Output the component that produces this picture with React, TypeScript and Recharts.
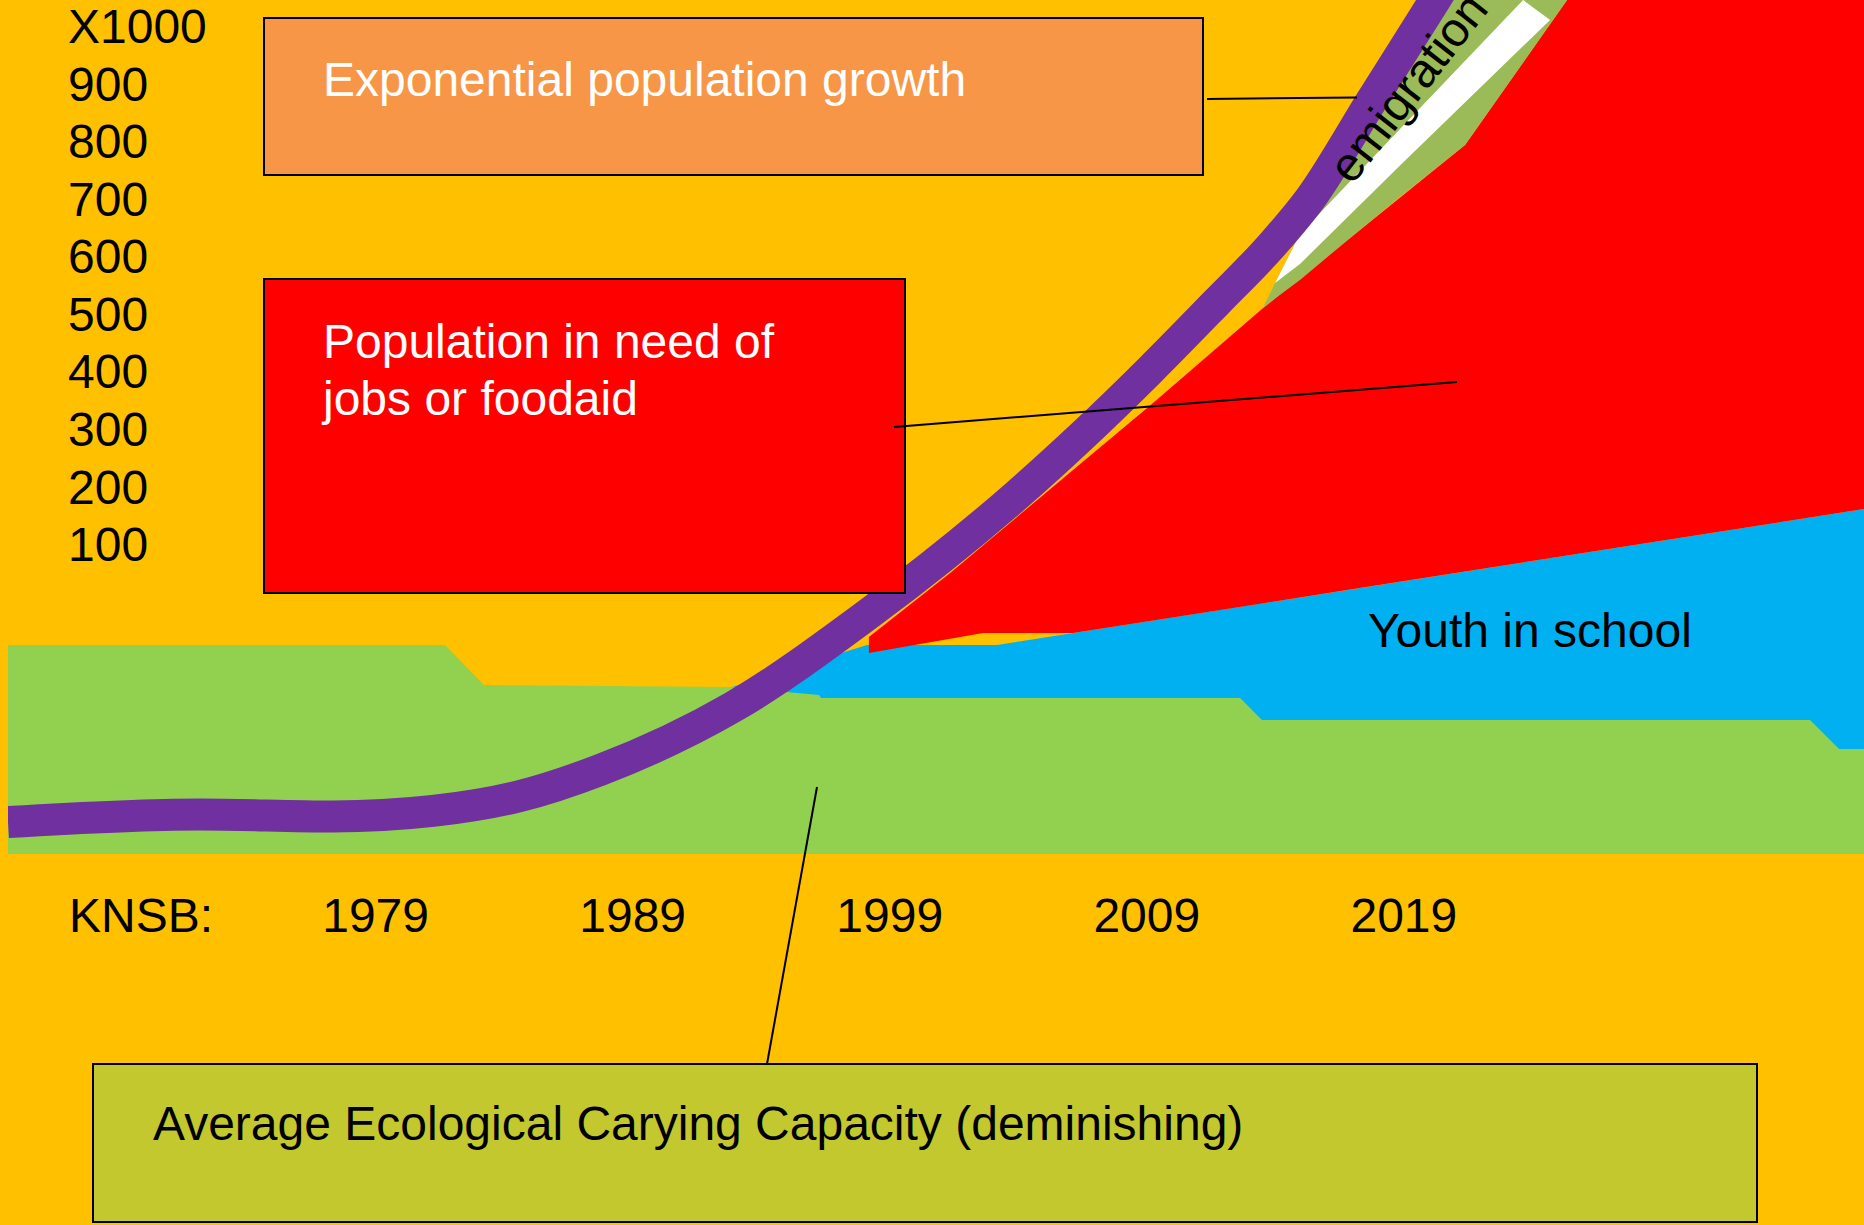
import { ComposedChart, Area, Line, XAxis, YAxis } from 'recharts'

const FONT = '"Liberation Sans", Arial, Helvetica, sans-serif'
const FS = 48

// axis labels
const yearTicks = [1979, 1989, 1999, 2009, 2019]
const popTicks = [100, 200, 300, 400, 500, 600, 700, 800, 900, 1000]

// drawing units on the hidden axis: 0 = foot of the green band, 1000 = top edge
// exponential population growth (purple curve)
const popYears = [1964.7, 1972.17, 1977.34, 1981.23, 1984.62, 1987.73, 1992.9, 1998.12, 2003.95, 2006.52, 2009.13, 2011.73, 2013.87, 2015.35, 2017.76, 2020.21, 2021.57]
const popValues = [37.4, 46.3, 43.9, 50.4, 67.9, 98.4, 172.1, 279.9, 420.4, 490.6, 566.7, 646.4, 713.1, 767.0, 882.9, 1000, 1066.7]

// average ecological carrying capacity (green)
const capYears = [1964.7, 1981.7, 1983.22, 1992.79, 1996.25, 1996.33, 2012.63, 2013.48, 2034.8, 2035.93, 2036.9]
const capValues = [244.7, 244.7, 197.9, 195.6, 186.2, 182.7, 182.7, 156.9, 156.9, 122.9, 122.9]

// youth in school (blue)
const schoolYears = [1992.75, 1998.12, 2003.17, 2036.9]
const schoolValues = [194.4, 244.7, 244.7, 404.0]

// population in need of jobs or foodaid (red wedge)
const needYears = [1998.19, 2001.35, 2002.63, 2006.13, 2009.13, 2013.48, 2016.91, 2021.38, 2025.35, 2036.9]
const needLow = [235.3, 252.0, 258.8, 258.8, 272.8, 293.4, 309.6, 330.7, 349.4, 404.0]
const needHigh = [254.1, 329.0, 361.3, 449.6, 525.2, 638.2, 721.3, 830.2, 1000, 1503.5]

// emigration band (olive) and its white stripe
const emiYears = [2013.52, 2013.99, 2014.96, 2016.91, 2018.85, 2021.38, 2023.64, 2025.35, 2027.41]
const emiLow = [639.3, 650.5, 672.2, 721.3, 769.7, 830.2, 926.8, 1000, 1087.8]
const emiHigh = [639.3, 668.6, 726.0, 841.9, 934.9, 1056.2, 1163.9, 1245.9, 1344.3]

const stripeYears = [2013.99, 2014.96, 2018.85, 2023.64, 2024.69]
const stripeLow = [668.6, 690.9, 806.3, 946.1, 976.6]
const stripeHigh = [668.6, 726.0, 849.0, 1000, 976.6]

const popData = popYears.map((year, i) => ({ year, v: popValues[i] }))
const capData = capYears.map((year, i) => ({ year, v: capValues[i] }))
const schoolData = schoolYears.map((year, i) => ({ year, v: schoolValues[i] }))
const needData = needYears.map((year, i) => ({ year, r: [needLow[i], needHigh[i]] }))
const emiData = emiYears.map((year, i) => ({ year, r: [emiLow[i], emiHigh[i]] }))
const stripeData = stripeYears.map((year, i) => ({ year, r: [stripeLow[i], stripeHigh[i]] }))

// eslint-disable-next-line @typescript-eslint/no-explicit-any
function YearTick({ x, payload }: any) {
  return (
    <text x={x} y={932} textAnchor="middle" fontSize={FS} fontFamily={FONT} fill="#000">
      {payload.value}
    </text>
  )
}

// eslint-disable-next-line @typescript-eslint/no-explicit-any
function PopTick({ y, payload }: any) {
  return (
    <text x={68} y={y} textAnchor="start" fontSize={FS} fontFamily={FONT} fill="#000">
      {payload.value === 1000 ? 'X1000' : payload.value}
    </text>
  )
}

export default function App() {
  return (
    <div style={{ position: 'absolute', left: 0, top: 0, width: 1864, height: 1225, background: '#FFC000', overflow: 'hidden', fontFamily: FONT }}>
      <ComposedChart width={1864} height={1225} margin={{ top: 0, right: 0, bottom: 0, left: 0 }}>
        <XAxis
          type="number"
          dataKey="year"
          domain={[1964.7, 2036.9]}
          allowDataOverflow
          ticks={yearTicks}
          interval={0}
          height={371}
          axisLine={false}
          tickLine={false}
          tick={<YearTick />}
        />
        <YAxis
          yAxisId="labels"
          type="number"
          domain={[-408.7, 1074.7]}
          allowDataOverflow
          ticks={popTicks}
          interval={0}
          width={8}
          axisLine={false}
          tickLine={false}
          tick={<PopTick />}
        />
        <YAxis yAxisId="v" type="number" hide domain={[0, 1000]} allowDataOverflow />

        <Area yAxisId="v" data={schoolData} dataKey="v" type="linear" fill="#00B0F0" fillOpacity={1} stroke="none" isAnimationActive={false} activeDot={false} />
        <Area yAxisId="v" data={capData} dataKey="v" type="linear" fill="#92D050" fillOpacity={1} stroke="none" isAnimationActive={false} activeDot={false} />
        <Area yAxisId="v" data={needData} dataKey="r" type="linear" fill="#FF0000" fillOpacity={1} stroke="none" isAnimationActive={false} activeDot={false} />
        <Area yAxisId="v" data={emiData} dataKey="r" type="linear" fill="#9BBB59" fillOpacity={1} stroke="none" isAnimationActive={false} activeDot={false} />
        <Area yAxisId="v" data={stripeData} dataKey="r" type="linear" fill="#FFFFFF" fillOpacity={1} stroke="none" isAnimationActive={false} activeDot={false} />
        <Line yAxisId="v" data={popData} dataKey="v" type="monotone" stroke="#7030A0" strokeWidth={32} dot={false} activeDot={false} isAnimationActive={false} />
      </ComposedChart>

      {/* call-out boxes and notes */}
      <svg width={1864} height={1225} style={{ position: 'absolute', left: 0, top: 0, pointerEvents: 'none' }} fontFamily={FONT} fontSize={FS}>
        <rect x={264} y={18} width={939} height={157} fill="#F79646" stroke="#000" strokeWidth={2} />
        <text x={323} y={96} fill="#fff">Exponential population growth</text>

        <rect x={264} y={279} width={641} height={314} fill="#FF0000" stroke="#000" strokeWidth={2} />
        <text x={323} y={358} fill="#fff">Population in need of</text>
        <text x={323} y={415} fill="#fff">jobs or foodaid</text>

        <rect x={93} y={1064} width={1664} height={158} fill="#C3C82F" stroke="#000" strokeWidth={2} />
        <text x={153} y={1140} fill="#000">Average Ecological Carying Capacity (deminishing)</text>

        <text x={1368} y={647} fill="#000">Youth in school</text>
        <text x={69} y={932} fill="#000">KNSB:</text>
        <text transform="translate(1352 186) rotate(-52)" fill="#000">emigration -</text>

        <line x1={1207} y1={99} x2={1357} y2={97.5} stroke="#000" strokeWidth={2} />
        <line x1={894} y1={427} x2={1457} y2={382} stroke="#000" strokeWidth={2} />
        <line x1={817} y1={787} x2={767} y2={1064} stroke="#000" strokeWidth={2} />
      </svg>
    </div>
  )
}
